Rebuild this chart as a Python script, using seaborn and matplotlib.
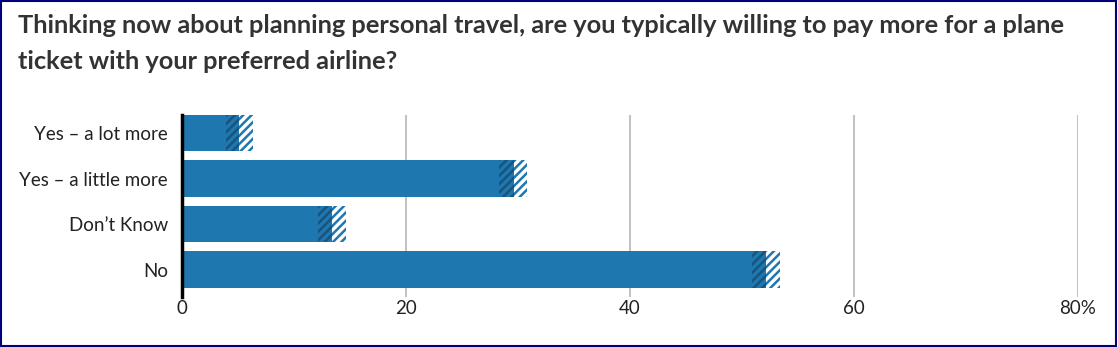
import matplotlib
matplotlib.use("Agg")
import matplotlib.pyplot as plt
import seaborn as sns
import pandas as pd
from matplotlib.patches import Rectangle

categories = ["Yes – a lot more", "Yes – a little more", "Don’t Know", "No"]
low_values = [3.9, 28.3, 12.1, 50.9]
est_values = [5.1, 29.6, 13.4, 52.1]
high_values = [6.3, 30.8, 14.6, 53.4]
tick_values = [0, 20, 40, 60, 80]
tick_labels = ["0", "20", "40", "60", "80%"]
title = ("Thinking now about planning personal travel, are you typically willing to pay more for a plane\n"
         "ticket with your preferred airline?")

sns.set_theme(style="white")
plt.rcParams["font.family"] = ["Lato", "DejaVu Sans"]
plt.rcParams["hatch.linewidth"] = 1.8

BLUE = "#1f77b0"
DARK = "#17547d"

df = pd.DataFrame({"cat": categories, "low": low_values, "est": est_values, "high": high_values})

fig = plt.figure(figsize=(11.18, 3.47), dpi=100)
ax = fig.add_axes([0.1628, 0.1441, 0.8014, 0.5245])

def draw(col, face, hatch, hatchcolor):
    n0 = len(ax.patches)
    sns.barplot(data=df, x=col, y="cat", orient="h", ax=ax, color=face,
                width=0.8, saturation=1, errorbar=None)
    for p in ax.patches[n0:]:
        p.set_facecolor(face)
        p.set_linewidth(0)
        if hatch:
            p.set_hatch(hatch)
            p.set_edgecolor(hatchcolor)

draw("high", "white", "////", BLUE)
draw("est", BLUE, "////", DARK)
draw("low", BLUE, None, None)

ax.set_xlim(0, 80)
ax.set_ylim(3.6, -0.4)
ax.set_xticks(tick_values)
ax.set_xticklabels(tick_labels, fontsize=13.5, color="#222222")
ax.tick_params(axis="x", length=0, pad=2)
ax.tick_params(axis="y", length=0, pad=10, labelsize=13.5, labelcolor="#222222")
ax.set_xlabel("")
ax.set_ylabel("")
for x in tick_values[1:]:
    ax.axvline(x, color="#b5b5b5", lw=1.2, zorder=0)
for s in ["top", "right", "bottom"]:
    ax.spines[s].set_visible(False)
ax.spines["left"].set_color("black")
ax.spines["left"].set_linewidth(2.5)
ax.spines["left"].set_zorder(5)

fig.text(0.016, 0.96, title, fontsize=18.3, fontweight="bold", color="#333333",
         ha="left", va="top", linespacing=1.68)

fig.patches.append(Rectangle((0.001, 0.002), 0.997, 0.995, transform=fig.transFigure,
                             fill=False, edgecolor="#00007a", lw=1.5))

fig.savefig("out.png", dpi=100)
